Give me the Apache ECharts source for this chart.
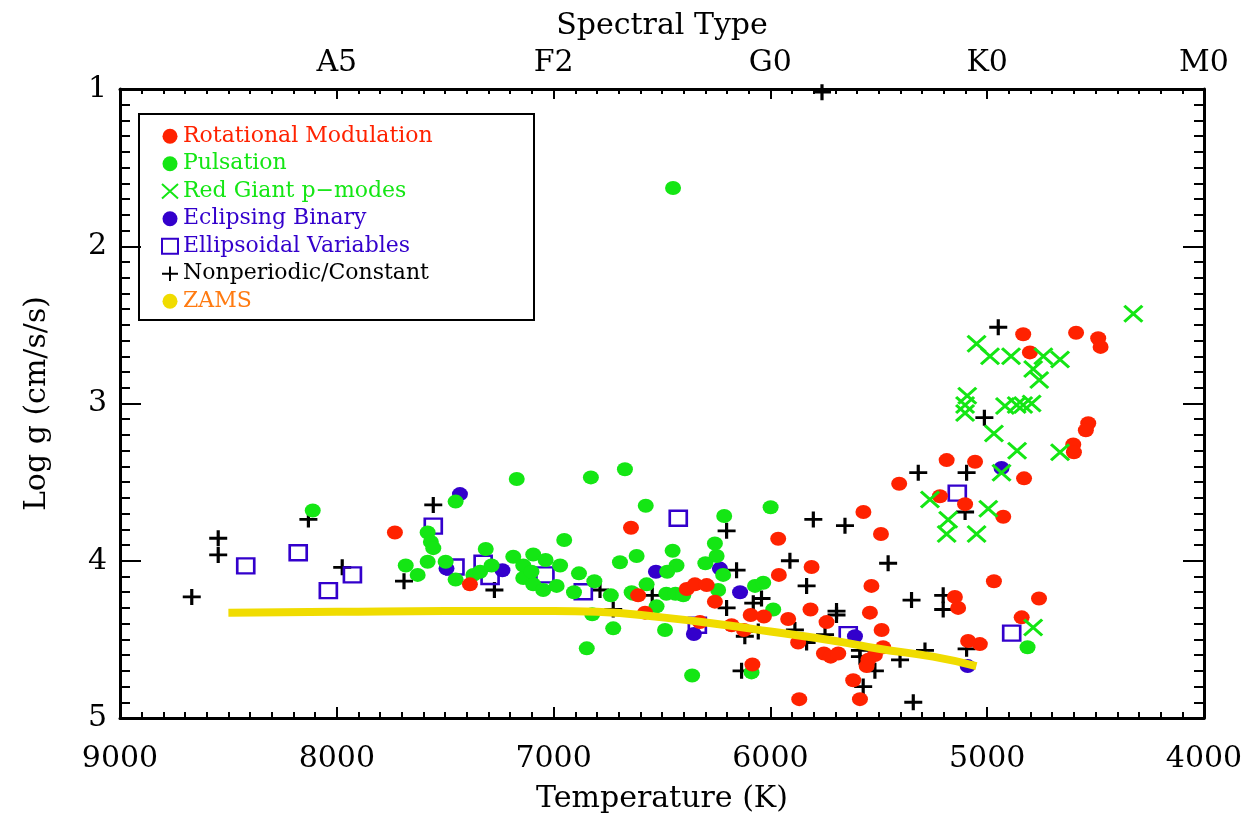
<!DOCTYPE html>
<html>
<head>
<meta charset="utf-8">
<script src="https://cdn.jsdelivr.net/npm/echarts@6/dist/echarts.min.js"></script>
<style>
  html, body { margin: 0; background: #fff; }
  #main { width: 1256px; height: 814px; }
</style>
</head>
<body>
<div id="main"></div>
<script>
// [Teff (K), log g]
const rotational = [
  [7732, 3.82], [7386, 4.15], [6643, 3.79], [6610, 4.22], [6578, 4.33], [6386, 4.18],
  [6348, 4.15], [6294, 4.155], [6256, 4.26], [6325, 4.39], [6179, 4.41], [6122, 4.44],
  [6091, 4.345], [6030, 4.355], [6083, 4.66], [5964, 3.86], [5961, 4.09], [5918, 4.37],
  [5872, 4.52], [5867, 4.88], [5815, 4.31], [5810, 4.04], [5741, 4.39], [5753, 4.59],
  [5722, 4.61], [5687, 4.59], [5571, 3.69], [5490, 3.83], [5534, 4.16], [5541, 4.33],
  [5487, 4.44], [5480, 4.55], [5518, 4.60], [5548, 4.63], [5556, 4.67], [5618, 4.76],
  [5587, 4.88], [5406, 3.51], [5218, 3.59], [5187, 3.36], [5056, 3.37], [5102, 3.64],
  [4926, 3.72], [4830, 3.476], [4603, 3.26], [4600, 3.31], [4534, 3.126], [4545, 3.17],
  [5149, 4.23], [5134, 4.30], [4969, 4.13], [4761, 4.24], [4841, 4.36], [5088, 4.51],
  [5034, 4.53], [4834, 2.56], [4590, 2.55], [4488, 2.585], [4477, 2.64], [4803, 2.675]
];
const pulsation = [
  [8111, 3.68], [7581, 3.82], [7566, 3.88], [7555, 3.92], [7452, 3.624], [7682, 4.03],
  [7627, 4.09], [7581, 4.006], [7498, 4.006], [7452, 4.12], [7313, 3.925], [7370, 4.09],
  [7339, 4.07], [7286, 4.03], [7170, 3.48], [6828, 3.47], [6671, 3.418], [6575, 3.65],
  [6951, 3.868], [7186, 3.975], [7140, 4.03], [7094, 3.96], [7037, 3.995], [6970, 4.03],
  [7140, 4.11], [7094, 4.15], [7048, 4.186], [6986, 4.16], [7102, 4.07], [6883, 4.08],
  [6906, 4.20], [6812, 4.13], [6736, 4.22], [6822, 4.34], [6725, 4.43], [6694, 4.01],
  [6617, 3.97], [6451, 3.936], [6433, 4.03], [6476, 4.07], [6571, 4.15], [6640, 4.20],
  [6525, 4.29], [6486, 4.44], [6480, 4.21], [6438, 4.21], [6402, 4.22], [6300, 4.016],
  [5999, 3.66], [6213, 3.715], [6256, 3.89], [6248, 3.97], [6218, 4.09], [6071, 4.16],
  [6033, 4.14], [6241, 4.186], [6633, 4.21], [5987, 4.31], [6847, 4.557], [6087, 4.71],
  [6361, 4.73], [6449, 1.63], [4814, 4.55]
];
const redGiant = [
  [4326, 2.43], [5049, 2.62], [4987, 2.70], [4890, 2.70], [4741, 2.70], [4664, 2.72],
  [4788, 2.78], [4760, 2.85], [5092, 2.95], [5102, 3.01], [5102, 3.06], [4918, 3.016],
  [4864, 3.01], [4834, 3.01], [4795, 3.00], [4969, 3.19], [4862, 3.30], [4664, 3.31],
  [4934, 3.44], [5264, 3.61], [4995, 3.67], [5180, 3.74], [5187, 3.83], [5049, 3.83],
  [4788, 4.425]
];
const eclipsing = [
  [7432, 3.576], [7494, 4.05], [7236, 4.06], [6528, 4.07], [6233, 4.05], [6140, 4.20],
  [6353, 4.466], [5610, 4.48], [4934, 3.41], [5090, 4.67]
];
const ellipsoidal = [
  [8420, 4.033], [8178, 3.949], [8039, 4.19], [7928, 4.09], [7555, 3.78], [7455, 4.04],
  [7325, 4.016], [7293, 4.10], [7040, 4.09], [6863, 4.197], [6425, 3.73], [6337, 4.41],
  [5641, 4.47], [5138, 3.57], [4887, 4.46]
];
const nonperiodic = [
  [8669, 4.23], [8547, 3.857], [8547, 3.963], [7975, 4.042], [8131, 3.737], [7555, 3.645],
  [7690, 4.13], [7273, 4.186], [6786, 4.186], [6725, 4.31], [6545, 4.22], [6202, 3.81],
  [5802, 3.737], [5656, 3.777], [5910, 4.00], [5833, 4.16], [6156, 4.06], [6202, 4.30],
  [6079, 4.27], [6041, 4.24], [5695, 4.32], [5695, 4.345], [6118, 4.48], [6056, 4.45],
  [5887, 4.44], [5833, 4.52], [5748, 4.47], [5587, 4.57], [5587, 4.61], [5572, 4.80],
  [6133, 4.70], [5518, 4.70], [5318, 3.44], [5095, 3.44], [5102, 3.69], [5457, 4.016],
  [5349, 4.25], [5203, 4.22], [5203, 4.31], [5095, 4.56], [5287, 4.57], [5402, 4.63],
  [5341, 4.90], [4949, 2.515], [5013, 3.09], [5762, 1.02]
];
const zams = [
  [8500, 4.33], [8000, 4.325], [7500, 4.32], [7000, 4.32], [6800, 4.325], [6500, 4.36],
  [6200, 4.41], [6000, 4.45], [5700, 4.51], [5500, 4.56], [5250, 4.61], [5050, 4.67]
];
const specTemps = [8000, 7000, 6000, 5000, 4000];
const specLabels = ['A5', 'F2', 'G0', 'K0', 'M0'];

const names = ['Rotational Modulation', 'Pulsation', 'Red Giant p\u2212modes', 'Eclipsing Binary',
  'Ellipsoidal Variables', 'Nonperiodic/Constant', 'ZAMS'];
const RED = '#ff2200', GREEN = '#14e614', BLUE = '#3300cc', YELLOW = '#f0dc00';
const textColors = [RED, GREEN, GREEN, BLUE, BLUE, '#000', '#ff7a10'];
const FONT = 'DejaVu Serif';

const plusPath = 'path://M10,0V18M0,9H20';
const crossPath = 'path://M0,0L20,18M20,0L0,18';

const chartDom = document.getElementById('main');
const myChart = echarts.init(chartDom);

const axisCommon = {
  type: 'value',
  axisLine: { show: true, onZero: false, lineStyle: { color: '#000', width: 3 } },
  splitLine: { show: false },
  axisTick: { show: true, inside: true, lineStyle: { color: '#000', width: 2 } },
  minorTick: { show: true, splitNumber: 10, lineStyle: { color: '#000', width: 2 } }
};

var option = {
  animation: false,
  backgroundColor: '#fff',
  textStyle: { fontFamily: FONT },
  grid: { left: 120, right: 52, top: 89, bottom: 96, outerBoundsMode: 'none', containLabel: false },
  legend: {
    orient: 'vertical',
    left: 140,
    top: 115,
    padding: [10, 10, 10, 21],
    itemWidth: 16,
    itemHeight: 15,
    itemGap: 5,
    itemTextGap: 21,
    selectedMode: false,
    textStyle: { fontFamily: FONT, fontSize: 22, lineHeight: 22.5 },
    data: names.map((n, i) => {
      const d = { name: n, textStyle: { color: textColors[i] } };
      if (i === 6) { d.icon = 'circle'; d.itemStyle = { color: YELLOW }; }
      return d;
    })
  },
  graphic: [{
    type: 'rect',
    shape: { x: 139, y: 114, width: 395, height: 206 },
    style: { fill: 'none', stroke: '#000', lineWidth: 2 },
    z: 100
  }],
  xAxis: [
    Object.assign({}, axisCommon, {
      position: 'bottom', inverse: true, min: 4000, max: 9000, interval: 1000,
      name: 'Temperature (K)', nameLocation: 'middle', nameGap: 66,
      nameTextStyle: { fontFamily: FONT, fontSize: 30, color: '#000' },
      axisTick: Object.assign({}, axisCommon.axisTick, { length: 11 }),
      minorTick: Object.assign({}, axisCommon.minorTick, { length: 6 }),
      axisLabel: { margin: 26, fontFamily: FONT, fontSize: 30, color: '#000', formatter: v => String(v) }
    }),
    Object.assign({}, axisCommon, {
      position: 'top', inverse: true, min: 4000, max: 9000, interval: 1000,
      name: 'Spectral Type', nameLocation: 'middle', nameGap: 48,
      nameTextStyle: { fontFamily: FONT, fontSize: 30, color: '#000' },
      axisTick: Object.assign({}, axisCommon.axisTick, { length: 10 }),
      minorTick: Object.assign({}, axisCommon.minorTick, { length: 5 }),
      axisLabel: {
        margin: 11, fontFamily: FONT, fontSize: 30, color: '#000',
        formatter: v => { const k = specTemps.indexOf(v); return k < 0 ? '' : specLabels[k]; }
      }
    })
  ],
  yAxis: [
    Object.assign({}, axisCommon, {
      position: 'left', inverse: true, min: 1, max: 5, interval: 1,
      name: 'Log g (cm/s/s)', nameLocation: 'middle', nameGap: 68,
      nameTextStyle: { fontFamily: FONT, fontSize: 30, color: '#000' },
      axisTick: Object.assign({}, axisCommon.axisTick, { length: 21 }),
      minorTick: Object.assign({}, axisCommon.minorTick, { length: 10 }),
      axisLabel: { margin: 13, fontFamily: FONT, fontSize: 30, color: '#000' }
    }),
    Object.assign({}, axisCommon, {
      position: 'right', inverse: true, min: 1, max: 5, interval: 1,
      axisTick: Object.assign({}, axisCommon.axisTick, { length: 21 }),
      minorTick: Object.assign({}, axisCommon.minorTick, { length: 10 }),
      axisLabel: { show: false }
    })
  ],
  series: [
    {
      name: 'ZAMS', type: 'line', data: zams, smooth: true, showSymbol: false,
      lineStyle: { color: YELLOW, width: 8 }, itemStyle: { color: YELLOW }
    },
    {
      name: 'Nonperiodic/Constant', type: 'scatter', data: nonperiodic,
      symbol: plusPath, symbolSize: [18, 16],
      itemStyle: { color: '#000', borderColor: '#000', borderWidth: 3, opacity: 1 }
    },
    {
      name: 'Ellipsoidal Variables', type: 'scatter', data: ellipsoidal,
      symbol: 'rect', symbolSize: [17, 15],
      itemStyle: { color: 'rgba(0,0,0,0)', borderColor: BLUE, borderWidth: 2.5, opacity: 1 }
    },
    {
      name: 'Eclipsing Binary', type: 'scatter', data: eclipsing,
      symbol: 'circle', symbolSize: [16, 14], itemStyle: { color: BLUE, opacity: 1 }
    },
    {
      name: 'Pulsation', type: 'scatter', data: pulsation,
      symbol: 'circle', symbolSize: [16, 14], itemStyle: { color: GREEN, opacity: 1 }
    },
    {
      name: 'Rotational Modulation', type: 'scatter', data: rotational,
      symbol: 'circle', symbolSize: [16, 14], itemStyle: { color: RED, opacity: 1 }
    },
    {
      name: 'Red Giant p\u2212modes', type: 'scatter', data: redGiant,
      symbol: crossPath, symbolSize: [18, 16],
      itemStyle: { color: GREEN, borderColor: GREEN, borderWidth: 3, opacity: 1 }
    }
  ]
};
option && myChart.setOption(option);
</script>
</body>
</html>
